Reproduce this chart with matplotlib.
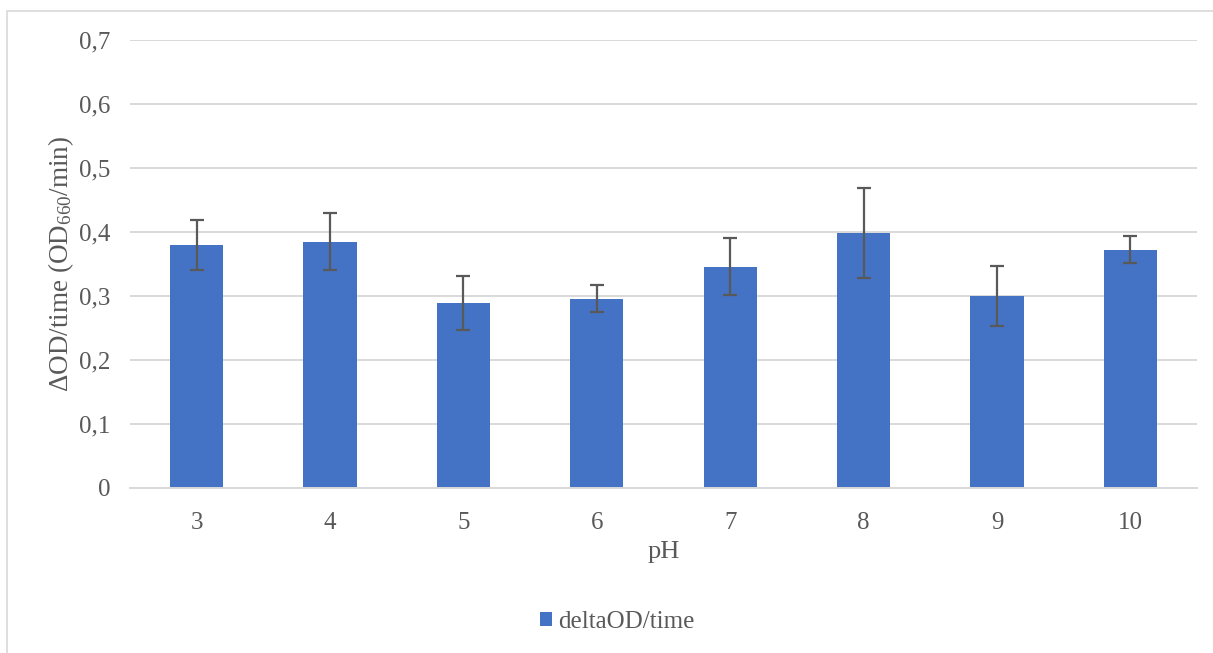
import matplotlib.pyplot as plt
import numpy as np
from matplotlib.patches import Rectangle

plt.rcParams['font.family'] = ['Liberation Serif', 'DejaVu Serif']
plt.rcParams['mathtext.fontset'] = 'custom'
plt.rcParams['mathtext.rm'] = 'Liberation Serif'

# Data
ph_labels = ['3', '4', '5', '6', '7', '8', '9', '10']
rate = [0.379, 0.385, 0.289, 0.296, 0.346, 0.398, 0.300, 0.372]
err = [0.039, 0.045, 0.042, 0.021, 0.044, 0.070, 0.047, 0.021]

bar_color = '#4472C4'
text_color = '#595959'
grid_color = '#D9D9D9'

fig = plt.figure(figsize=(12.13, 6.53), dpi=100)
ax = fig.add_axes([130 / 1213, 1 - 488 / 653, (1197 - 130) / 1213, (488 - 40) / 653])

# light frame round the chart area
fig.patches.append(Rectangle((7 / 1213, -0.05), 1.1, 1 - 11 / 653 + 0.05,
                             transform=fig.transFigure, fill=False,
                             edgecolor='#D9D9D9', linewidth=1.2))

x = np.arange(len(ph_labels))
ax.bar(x, rate, 0.4, color=bar_color, label='deltaOD/time', zorder=2)
ax.errorbar(x, rate, yerr=err, fmt='none', ecolor=text_color,
            elinewidth=1.6, capsize=5, capthick=1.6, zorder=3)

ax.set_xlim(-0.5, len(ph_labels) - 0.5)
ax.set_ylim(0, 0.7)
ax.set_yticks(np.arange(0, 0.71, 0.1))
ax.set_yticklabels(['0' if v == 0 else f'{v:.1f}'.replace('.', ',') for v in np.arange(0, 0.71, 0.1)])
ax.set_xticks(x)
ax.set_xticklabels(ph_labels)

ax.yaxis.grid(True, color=grid_color, linewidth=1.4, zorder=0)
ax.set_axisbelow(True)
for side in ['top', 'right', 'left']:
    ax.spines[side].set_visible(False)
ax.spines['bottom'].set_color(grid_color)
ax.spines['bottom'].set_linewidth(1.4)
ax.tick_params(length=0, labelsize=18, colors=text_color)
ax.tick_params(axis='x', pad=17)
ax.tick_params(axis='y', pad=14)

ax.set_xlabel('pH', fontsize=19, color=text_color, labelpad=5)
ax.set_ylabel('ΔOD/time (OD$\\mathregular{_{660}}$/min)', fontsize=19.5,
              color=text_color, labelpad=2)

fig.legend(loc='center', bbox_to_anchor=(0.509, 1 - 622 / 653), frameon=False,
           fontsize=18, handlelength=0.5, handleheight=0.5, handletextpad=0.25,
           labelcolor=text_color)

fig.savefig('out.png', dpi=100)
